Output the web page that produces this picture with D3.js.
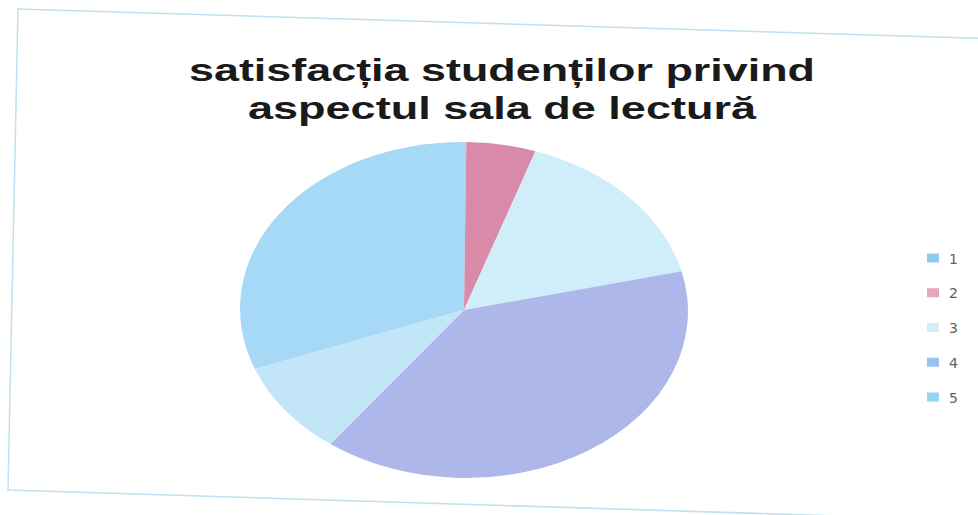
<!DOCTYPE html>
<html>
<head>
<meta charset="utf-8">
<script src="https://cdn.jsdelivr.net/npm/d3@7"></script>
<style>
  body { margin: 0; background: #fff; }
</style>
</head>
<body>
<script>
// Values (percent share of each rating)
var categories = ["1", "2", "3", "4", "5"];
var values = [31, 5, 16, 39, 9];
var colors = ["#a6d9f5", "#d98aa9", "#cfeefa", "#adb7ea", "#c2e5f7"];
var legendColors = ["#8ecbef", "#e3a7c0", "#d3eef8", "#9cc3ee", "#95d3f3"];
var titleLines = ["satisfacția studenților privind", "aspectul sala de lectură"];

var width = 978,
  height = 515;

var svg = d3.select("body")
  .append("svg")
  .attr("width", width)
  .attr("height", height);

// chart frame (the scan is slightly skewed)
svg.append("path")
  .attr("d", "M1000,39 L18,9 L8,490 L1000,521")
  .style("fill", "none")
  .style("stroke", "#bfe0ee")
  .style("stroke-width", 1.5);

// Title
var title = svg.append("g");
var titleWidths = [626, 508];
titleLines.forEach(function(t, i) {
  title.append("text")
    .attr("x", 502)
    .attr("y", 81 + i * 38)
    .attr("text-anchor", "middle")
    .attr("textLength", titleWidths[i])
    .attr("lengthAdjust", "spacingAndGlyphs")
    .style("font-family", "'Liberation Sans', Arial, sans-serif")
    .style("font-weight", "bold")
    .style("font-size", "32px")
    .style("fill", "#1a1a1a")
    .text(t);
});

// Pie (drawn as a circle, squashed to the ellipse of the scan)
var rx = 224,
  ry = 168;

// slice "1" ends at 12 o'clock, the rest follow clockwise
var total = d3.sum(values);
var offset = values[0] / total * 2 * Math.PI;

var pie = d3.pie()
  .sort(null)
  .startAngle(-offset)
  .endAngle(2 * Math.PI - offset);

var arc = d3.arc()
  .innerRadius(0)
  .outerRadius(rx);

var pieG = svg.append("g")
  .attr("transform", "translate(464,310) rotate(0.8) scale(1," + ry / rx + ")");

pieG.selectAll("path")
  .data(pie(values))
  .enter()
  .append("path")
  .attr("d", arc)
  .style("fill", function(d, i) { return colors[i]; })
  .style("stroke", "none");

// Legend
var legend = svg.append("g")
  .attr("transform", "translate(927,258)");

var ly = d3.scalePoint()
  .domain(categories)
  .range([0, 139]);

var item = legend.selectAll("g")
  .data(categories)
  .enter()
  .append("g")
  .attr("transform", function(d) { return "translate(0," + ly(d) + ")"; });

item.append("rect")
  .attr("x", 0)
  .attr("y", -4.5)
  .attr("width", 12)
  .attr("height", 9)
  .style("fill", function(d, i) { return legendColors[i]; });

item.append("text")
  .attr("x", 22)
  .attr("y", 5.5)
  .style("font-family", "'DejaVu Sans', sans-serif")
  .style("font-size", "14px")
  .style("fill", "#606060")
  .text(function(d) { return d; });
</script>
</body>
</html>
